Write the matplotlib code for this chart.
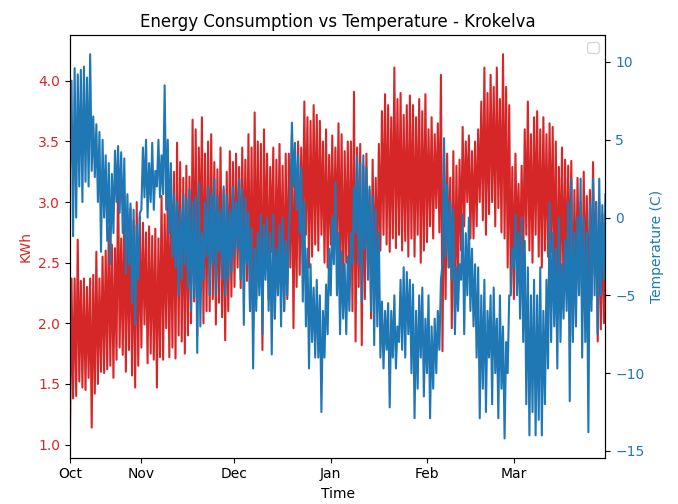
import pandas as pd
import matplotlib
matplotlib.use("Agg")
import matplotlib.pyplot as plt

# daily low / high readings, 9 Oct -> 30 Mar (one row = 10 days)
kwh_low = [
    1.05, 1.38, 1.40, 1.52, 1.47, 1.45, 1.55, 1.14, 1.42, 1.50,
    1.60, 1.59, 1.62, 1.65, 1.55, 1.70, 1.80, 1.74, 1.60, 1.78,
    1.57, 1.47, 1.65, 1.80, 1.99, 1.67, 1.75, 1.70, 1.47, 1.72,
    1.70, 1.96, 1.72, 1.80, 1.71, 1.90, 1.85, 1.75, 1.90, 2.00,
    2.18, 1.90, 2.50, 2.00, 2.10, 2.10, 2.20, 1.99, 2.17, 2.05,
    1.86, 2.10, 2.22, 2.30, 2.46, 2.29, 2.40, 2.35, 2.10, 1.95,
    2.20, 2.30, 1.78, 2.50, 2.20, 2.59, 2.04, 2.40, 2.30, 2.10,
    2.20, 2.46, 1.96, 2.30, 2.40, 2.60, 2.73, 2.46, 2.55, 2.65,
    2.60, 2.73, 2.50, 2.46, 2.65, 2.55, 2.60, 2.40, 2.20, 2.50,
    2.30, 2.10, 1.85, 2.30, 1.82, 2.20, 2.46, 2.04, 2.30, 2.40,
    2.60, 2.73, 2.65, 2.59, 2.70, 2.62, 2.73, 2.60, 2.68, 2.55,
    2.70, 2.55, 2.73, 2.50, 2.60, 2.67, 2.80, 2.70, 2.95, 2.75,
    1.77, 2.20, 2.46, 1.96, 2.10, 2.30, 2.60, 2.80, 3.00, 2.70,
    2.70, 2.80, 3.00, 2.85, 2.73, 2.90, 3.00, 2.80, 2.95, 2.75,
    2.70, 2.46, 2.25, 2.20, 2.60, 2.50, 2.46, 2.73, 2.60, 2.50,
    2.73, 2.55, 2.46, 2.60, 2.55, 2.59, 2.30, 2.04, 2.40, 2.20,
    2.30, 2.40, 1.90, 2.20, 2.46, 2.10, 2.30, 1.95, 2.20, 2.40,
    1.85, 1.95, 2.00,
]
kwh_high = [
    2.37, 2.37, 2.69, 2.35, 2.37, 2.30, 2.37, 2.40, 2.59, 2.37,
    2.55, 2.60, 2.79, 2.65, 2.62, 3.24, 2.70, 3.05, 2.90, 2.95,
    2.85, 3.00, 2.88, 2.83, 2.75, 2.80, 2.72, 2.78, 2.70, 3.05,
    2.90, 3.10, 3.00, 3.25, 3.49, 3.33, 3.20, 3.30, 3.21, 3.68,
    3.60, 3.45, 3.70, 3.40, 3.50, 3.56, 3.33, 3.27, 3.45, 3.10,
    3.25, 3.42, 3.33, 3.40, 3.29, 3.45, 3.35, 3.56, 3.45, 3.74,
    3.50, 3.48, 3.60, 3.40, 3.29, 3.45, 3.35, 3.48, 3.30, 3.40,
    3.40, 3.56, 3.36, 3.50, 3.45, 3.83, 3.70, 3.67, 3.80, 3.72,
    3.67, 3.50, 3.60, 3.39, 3.55, 3.45, 3.65, 3.56, 3.42, 3.50,
    3.50, 3.91, 3.45, 3.48, 3.30, 3.40, 3.10, 3.35, 3.20, 3.48,
    3.75, 3.89, 3.80, 3.70, 4.11, 3.85, 3.90, 3.72, 3.80, 3.88,
    3.80, 3.70, 3.85, 3.75, 3.89, 3.60, 3.70, 3.56, 3.65, 4.05,
    3.42, 3.40, 3.20, 3.42, 3.30, 3.35, 3.62, 3.50, 3.55, 3.42,
    3.50, 3.60, 3.83, 4.11, 3.90, 4.05, 3.95, 4.11, 3.85, 4.22,
    3.95, 3.80, 3.29, 3.40, 3.15, 3.30, 3.60, 3.83, 3.56, 3.70,
    3.75, 3.60, 3.70, 3.56, 3.65, 3.62, 3.50, 3.29, 3.45, 3.35,
    3.30, 3.34, 3.10, 3.20, 3.00, 3.25, 3.05, 3.10, 3.33, 3.00,
    3.00, 2.90, 2.70,
]
temp_low = [
    3.0, -1.2, 0.0, 2.0, 1.0, 2.3, 2.0, 3.0, 2.6, 1.0,
    -2.2, 0.0, -1.5, -3.0, -1.0, 1.0, 0.3, -1.0, -3.6, -3.0,
    -5.5, -6.9, -4.0, 0.5, 1.3, 0.0, 1.0, 0.5, 2.0, 1.3,
    1.5, 0.5, -1.0, -2.5, -3.2, -5.0, -4.0, -3.0, -4.5, -6.0,
    -5.1, -8.7, -7.0, -4.0, -2.5, -5.0, -3.0, -5.0, -2.2, -4.0,
    -5.0, -4.0, -3.5, -2.5, -2.0, -4.0, -6.9, -3.0, -6.0, -9.7,
    -6.0, -5.0, -7.5, -4.0, -6.0, -8.8, -6.5, -5.0, -7.0, -6.0,
    -5.0, 1.0, 2.0, 0.5, -1.0, -5.4, -7.0, -9.7, -8.0, -9.0,
    -9.0, -12.5, -9.0, -7.5, -5.0, -3.0, -5.0, -7.5, -6.5, -7.5,
    -6.0, -3.0, -1.0, -3.0, -5.4, -2.0, -4.0, -6.0, -8.2, -7.0,
    -9.0, -9.7, -8.5, -12.2, -9.0, -9.7, -8.0, -8.5, -9.0, -7.5,
    -10.0, -12.9, -11.0, -9.0, -11.5, -10.0, -12.9, -11.0, -10.0, -8.5,
    -3.0, -2.5, -3.2, -4.0, -7.5, -6.0, -4.0, -7.5, -5.0, -6.0,
    -7.0, -9.0, -12.9, -11.0, -12.5, -9.0, -12.0, -10.0, -12.9, -11.0,
    -14.2, -10.0, -5.0, -3.2, -5.0, -6.5, -8.0, -12.0, -14.0, -12.5,
    -14.0, -13.0, -14.0, -12.0, -9.7, -8.0, -7.0, -9.7, -8.0, -6.5,
    -6.0, -11.8, -8.0, -7.0, -5.0, -9.0, -8.0, -13.8, -6.0, -5.0,
    -7.5, -5.0, -4.0,
]
temp_high = [
    8.8, 9.6, 9.2, 9.5, 9.7, 9.0, 10.5, 6.5, 6.0, 5.5,
    5.0, 4.0, 3.5, 2.8, 4.3, 4.6, 4.2, 3.8, 1.5, 0.9,
    0.5, -0.5, 0.3, 4.5, 5.0, 3.5, 4.8, 3.0, 5.0, 4.0,
    8.5, 5.0, 3.5, 1.5, 1.0, 0.5, 1.5, 1.2, 1.8, 1.0,
    1.3, 2.2, -1.0, 1.0, 2.0, 1.5, 2.5, 1.4, 0.5, 2.0,
    1.5, 0.5, 2.0, 1.0, 2.5, 1.8, 1.2, 0.3, -0.7, -2.0,
    -1.0, 0.2, -0.5, 0.0, -1.0, 0.2, -2.0, -0.5, 0.0, -1.5,
    -1.0, 6.1, 4.8, 4.0, 3.2, 1.0, -2.0, -3.0, -4.5, -4.0,
    -5.0, -6.0, -4.3, -2.0, 0.0, 2.3, -1.0, -2.2, -3.0, -2.5,
    -1.0, 2.0, 4.0, 3.5, 4.0, 3.2, 2.0, 1.4, 0.5, -1.0,
    -5.4, -6.0, -5.5, -6.0, -5.0, -7.0, -4.0, -3.2, -3.5, -4.0,
    -4.3, -6.0, -5.0, -4.5, -6.5, -5.0, -7.0, -6.5, -6.0, -4.0,
    5.1, 2.1, 1.0, 0.5, -3.2, -3.0, 0.2, -1.0, 0.0, -2.0,
    -3.0, -3.2, -5.0, -4.0, -6.0, -5.0, -4.5, -6.5, -5.0, -7.0,
    -8.0, -5.0, -2.0, 0.2, -1.0, 0.0, -1.5, -3.2, -5.0, -4.0,
    -5.0, -3.2, -6.0, -4.0, 1.0, -1.0, -2.0, 0.0, -3.0, -1.5,
    1.0, 2.5, -1.0, 0.0, 2.5, 0.0, -1.0, 1.0, 2.5, 1.0,
    2.5, 0.8, 1.5,
]

month_labels = ["Oct", "Nov", "Dec", "Jan", "Feb", "Mar"]
month_starts = ["2020-11-01", "2020-12-01", "2021-01-01", "2021-02-01", "2021-03-01"]


def interleave(lo, hi):
    out = []
    for a, b in zip(lo, hi):
        out += [a, b]
    return out


kwh = interleave(kwh_low, kwh_high)
temp = interleave(temp_low, temp_high)
time = pd.date_range("2020-10-09", periods=len(kwh), freq="12h")

fig, ax1 = plt.subplots(figsize=(6.78, 5.04), dpi=100)
fig.subplots_adjust(left=0.1032, right=0.893, bottom=0.0919, top=0.9306)

ax1.plot(time, kwh, color="tab:red")
ax1.set_xlabel("Time")
ax1.set_ylabel("KWh", color="tab:red")
ax1.tick_params(axis="y", labelcolor="tab:red")

ax2 = ax1.twinx()
ax2.plot(time, temp, color="tab:blue")
ax2.set_ylabel("Temperature (C)", color="tab:blue")
ax2.tick_params(axis="y", labelcolor="tab:blue")

ax1.set_xlim(time[0], time[-1])
ax1.set_xticks([time[0]] + [pd.Timestamp(m) for m in month_starts])
ax1.set_xticklabels(month_labels)

ax2.legend(loc="upper right")
plt.title("Energy Consumption vs Temperature - Krokelva")
fig.savefig("out.png")
